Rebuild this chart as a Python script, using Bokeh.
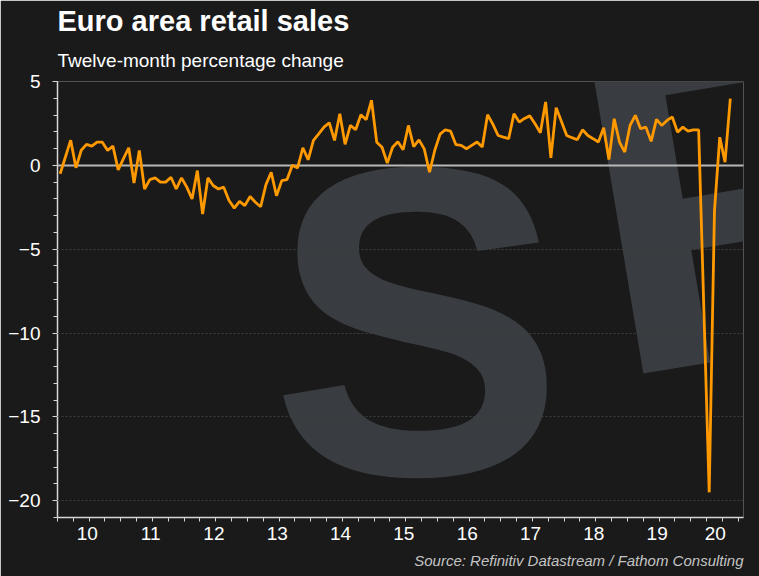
from bokeh.plotting import figure
from bokeh.models import FixedTicker, Grid, Title, Range1d, PrintfTickFormatter, Label
from bokeh.embed import file_html
from bokeh.resources import INLINE

# ---- data (monthly, twelve-month % change, Jan 2010 - Aug 2020) ----
start_year = 10   # 2010, written as years since 2000 (axis shows two-digit years)
retail_yoy = [
    -0.5, 0.5, 1.5, -0.15, 0.9, 1.25, 1.15, 1.38, 1.38, 0.89, 1.15, -0.27,   # 2010
    0.4, 1.05, -1.05, 0.89, -1.41, -0.85, -0.75, -1.0, -1.0, -0.71, -1.41, -0.75,  # 2011
    -1.3, -2.0, -0.31, -2.9, -0.75, -1.2, -1.41, -1.3, -2.1, -2.55, -2.15, -2.4,   # 2012
    -1.86, -2.2, -2.47, -1.15, -0.41, -1.81, -0.91, -0.85, 0.0, -0.15, 1.05, 0.33,  # 2013
    1.49, 1.88, 2.28, 2.54, 1.49, 3.08, 1.25, 2.38, 2.12, 3.02, 2.72, 3.88,        # 2014
    1.38, 1.08, 0.13, 1.08, 1.41, 0.93, 2.38, 1.12, 1.52, 0.98, -0.41, 0.9,        # 2015
    1.86, 2.12, 2.04, 1.23, 1.19, 0.99, 1.19, 1.39, 1.09, 3.02, 2.46, 1.78,        # 2016
    1.68, 1.59, 3.08, 2.58, 2.8, 2.95, 2.48, 1.94, 3.78, 0.45, 3.44, 2.62,         # 2017
    1.78, 1.65, 1.53, 2.12, 1.78, 1.59, 1.39, 2.24, 0.35, 2.78, 1.39, 0.79,        # 2018
    2.38, 2.98, 2.18, 2.28, 1.43, 2.74, 2.38, 2.68, 2.88, 1.98, 2.28, 2.04,        # 2019
    2.12, 2.12, -8.7, -19.5, -2.7, 1.68, 0.19, 3.98,                              # 2020
]
year_labels = [10, 11, 12, 13, 14, 15, 16, 17, 18, 19, 20]
y_ticks = [-20, -15, -10, -5, 0, 5]

title_text = "Euro area retail sales"
subtitle_text = "Twelve-month percentage change"
source_text = "Source: Refinitiv Datastream / Fathom Consulting"

BG = "#1a1a1a"
AX = "#d6d6d6"
FONT = "Liberation Sans"

x_vals = [start_year + (i + 0.5) / 12 for i in range(len(retail_yoy))]
x_end = start_year + (len(retail_yoy) + 2) / 12

p = figure(width=759, height=576, title=None,
           x_range=Range1d(start_year, x_end), y_range=Range1d(-21, 5),
           output_backend="svg", toolbar_location=None,
           background_fill_color=BG, border_fill_color=BG,
           outline_line_color=None,
           min_border_left=57, min_border_right=16,
           min_border_top=81, min_border_bottom=59)

# watermark letters (drawn before the grid lines)
wm_color = "#393c40"
wm_s = Label(x=213, y=196, x_units="screen", y_units="screen", text="S",
             text_font=FONT, text_font_style="bold", text_font_size="440px",
             text_color=wm_color, text_baseline="alphabetic", level="annotation")
wm_p = Label(x=528, y=299, x_units="screen", y_units="screen", text="P",
             text_font=FONT, text_font_style="bold", text_font_size="470px",
             text_color=wm_color, text_baseline="alphabetic", angle=0.166,
             level="annotation")

# grid: dotted at labelled values, solid zero line
p.xgrid.visible = False
p.ygrid.ticker = FixedTicker(ticks=[t for t in y_ticks if t != 0])
p.ygrid.grid_line_color = "#3a403e"
p.ygrid.grid_line_dash = "2 2"
p.ygrid.grid_line_width = 1
p.ygrid.level = "annotation"
zero_grid = Grid(dimension=1, ticker=FixedTicker(ticks=[0]),
                 grid_line_color="#b8b8b8", grid_line_width=2, level="annotation")
p.center = [wm_s, wm_p] + list(p.center) + [zero_grid]

# y axis
ya = p.yaxis[0]
ya.ticker = FixedTicker(ticks=y_ticks, minor_ticks=list(range(-21, 6)))
ya.major_label_text_font = FONT
ya.major_label_text_font_size = "19px"
ya.major_label_text_color = "#ffffff"
ya.major_label_standoff = 12
ya.axis_line_color = AX
ya.axis_line_width = 1.5
ya.major_tick_line_color = AX
ya.minor_tick_line_color = AX
ya.major_tick_in = 0
ya.major_tick_out = 5
ya.minor_tick_in = 0
ya.minor_tick_out = 4

# x axis: labels centred in each (visible) year, quarterly ticks
label_pos = [(max(y, start_year) + min(y + 1, x_end)) / 2 - 0.03 for y in year_labels]
xa = p.xaxis[0]
xa.ticker = FixedTicker(ticks=label_pos,
                        minor_ticks=[y + q / 4 for y in year_labels for q in range(4)])
xa.formatter = PrintfTickFormatter(format="%d")
xa.major_label_text_font = FONT
xa.major_label_text_font_size = "19px"
xa.major_label_text_color = "#ffffff"
xa.major_label_standoff = 5
xa.axis_line_color = AX
xa.axis_line_width = 1.5
xa.major_tick_line_color = None
xa.minor_tick_line_color = AX
xa.major_tick_in = 0
xa.major_tick_out = 0
xa.minor_tick_in = 0
xa.minor_tick_out = 4

# data (drawn on top of the watermark)
p.line(x_vals, retail_yoy, line_color="#ff9900", line_width=2.8, level="overlay")

# titles and source
p.add_layout(Title(text=subtitle_text, text_font=FONT, text_font_size="19px",
                   text_font_style="normal", text_color="#ffffff",
                   align="left", standoff=22), "above")
p.add_layout(Title(text=title_text, text_font=FONT, text_font_size="29px",
                   text_font_style="bold", text_color="#ffffff",
                   align="left", standoff=0), "above")
p.add_layout(Title(text=source_text, text_font=FONT, text_font_size="15px",
                   text_font_style="italic", text_color="#c4c4c4",
                   align="right", standoff=15), "below")

open("out.html", "w").write(file_html(p, INLINE))
